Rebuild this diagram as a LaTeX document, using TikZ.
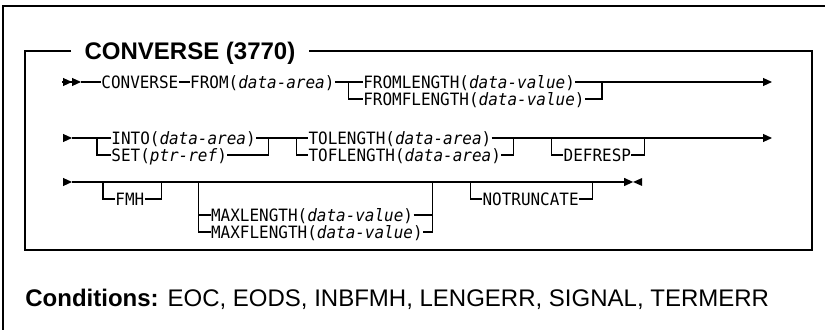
\documentclass[tikz,border=0pt]{standalone}
\usepackage{fontspec}
\usepackage{tikz}
\usetikzlibrary{arrows.meta, positioning, calc}
\newfontfamily\headfont{Liberation Sans}
\newfontfamily\railfont[FakeStretch=0.94]{DejaVu Sans Mono}
\definecolor{ink}{HTML}{000000}
\tikzset{
  frame/.style={line width=1pt, draw=ink},
  rail/.style={line width=0.55pt, draw=ink},
  railtext/.style={
    anchor=west, inner sep=0pt,
    text height=7.6pt, text depth=1.4pt,
    font=\railfont\fontsize{8.5}{10}\selectfont,
  },
  heading/.style={
    inner xsep=6.5pt, inner ysep=0pt,
    text height=8.6pt, text depth=0pt,
    font=\headfont\bfseries\fontsize{12}{14}\selectfont,
  },
  railtip/.style={-{Triangle[length=4.5pt,width=4pt]}},
  railstart/.style={-{Triangle[length=4.5pt,width=4pt]Triangle[length=4.5pt,width=4pt]}},
}

\begin{document}
\begin{tikzpicture}[x=0.5pt,y=-0.5pt]
  \useasboundingbox (0,0) rectangle (825,330);
  \draw[frame] (3,330) -- (3,6) -- (825,6);
  \node[heading] (title) at (190,51) {CONVERSE (3770)};
  \draw[frame] (title.west) -- (25,51) -- (25,250) -- (812,250) -- (812,51) -- (title.east);

  % first line
  \coordinate (s1) at (62,82);
  \coordinate (t1) at (81,82);
  \node[railtext] (converse) at (101,82) {CONVERSE};
  \node[railtext, right=5.5pt of converse] (from) {FROM(\textit{data-area})};
  \coordinate (j1) at ($(from.east)+(14,0)$);
  \node[railtext, right=7pt of j1] (fromlength) {FROMLENGTH(\textit{data-value})};
  \node[railtext] (fromflength) at ($(fromlength.west)+(0,17)$) {FROMFLENGTH(\textit{data-value})};
  \coordinate (j2) at ($(fromflength.east)+(17,-17)$);
  \coordinate (e1) at (772,82);
  \draw[rail,railstart] (s1) -- (t1);
  \draw[rail] (t1) -- (converse) -- (from) -- (j1) -- (fromlength) -- (j2);
  \draw[rail,railtip] (j2) -- (e1);
  \draw[rail] (j1) |- (fromflength) -| (j2);

  % second line
  \coordinate (s2) at (63,138);
  \coordinate (t2) at (72,138);
  \coordinate (j3) at (97,138);
  \node[railtext, right=7pt of j3] (into) {INTO(\textit{data-area})};
  \node[railtext] (set) at ($(into.west)+(0,17)$) {SET(\textit{ptr-ref})};
  \coordinate (j4) at ($(into.east)+(12,0)$);
  \coordinate (j5) at ($(j4)+(28,0)$);
  \node[railtext, right=6pt of j5] (tolength) {TOLENGTH(\textit{data-area})};
  \node[railtext] (toflength) at ($(tolength.west)+(0,17)$) {TOFLENGTH(\textit{data-area})};
  \coordinate (j6) at ($(toflength.east)+(12,-17)$);
  \coordinate (j7) at ($(j6)+(38,0)$);
  \node[railtext] (defresp) at ($(j7)+(12,17)$) {DEFRESP};
  \coordinate (j8) at ($(defresp.east)+(13,-17)$);
  \coordinate (e2) at (772,138);
  \draw[rail,railtip] (s2) -- (t2);
  \draw[rail] (t2) -- (j3) -- (into) -- (j4) -- (j5) -- (tolength) -- (j6);
  \draw[rail,railtip] (j6) -- (e2);
  \draw[rail] (j3) |- (set) -| (j4);
  \draw[rail] (j5) |- (toflength) -| (j6);
  \draw[rail] (j7) |- (defresp) -| (j8);

  % third line
  \coordinate (s3) at (63,182);
  \coordinate (t3) at (72,182);
  \coordinate (j9) at (103,182);
  \node[railtext] (fmh) at ($(j9)+(12,17)$) {FMH};
  \coordinate (j10) at ($(fmh.east)+(17,-17)$);
  \coordinate (j11) at ($(j10)+(37,0)$);
  \node[railtext] (maxlength) at ($(j11)+(12,33)$) {MAXLENGTH(\textit{data-value})};
  \node[railtext] (maxflength) at ($(maxlength.west)+(0,17)$) {MAXFLENGTH(\textit{data-value})};
  \coordinate (j12) at ($(maxflength.east)+(9,0)$);
  \coordinate (j13) at ($(j12 |- j11)+(38,0)$);
  \node[railtext] (notruncate) at ($(j13)+(12,17)$) {NOTRUNCATE};
  \coordinate (j14) at ($(notruncate.east)+(13,-17)$);
  \coordinate (stop) at ($(j14)+(41,0)$);
  \draw[rail,railtip] (s3) -- (t3);
  \draw[rail,railtip] (t3) -- (stop);
  \fill[ink] (stop) -- ++(9,-4) -- ++(0,8) -- cycle;
  \draw[rail] (j9) |- (fmh) -| (j10);
  \draw[rail] (j11) |- (maxflength) -| (j12 |- j11);
  \draw[rail] (j11 |- maxlength) -- (maxlength) -- (maxlength -| j12);
  \draw[rail] (j13) |- (notruncate) -| (j14);

  \node[anchor=base west, inner sep=0pt, font=\headfont\fontsize{12}{14}\selectfont]
    (conditions) at (25,307) {{\bfseries Conditions:} EOC, EODS, INBFMH, LENGERR, SIGNAL, TERMERR};
\end{tikzpicture}
\end{document}
